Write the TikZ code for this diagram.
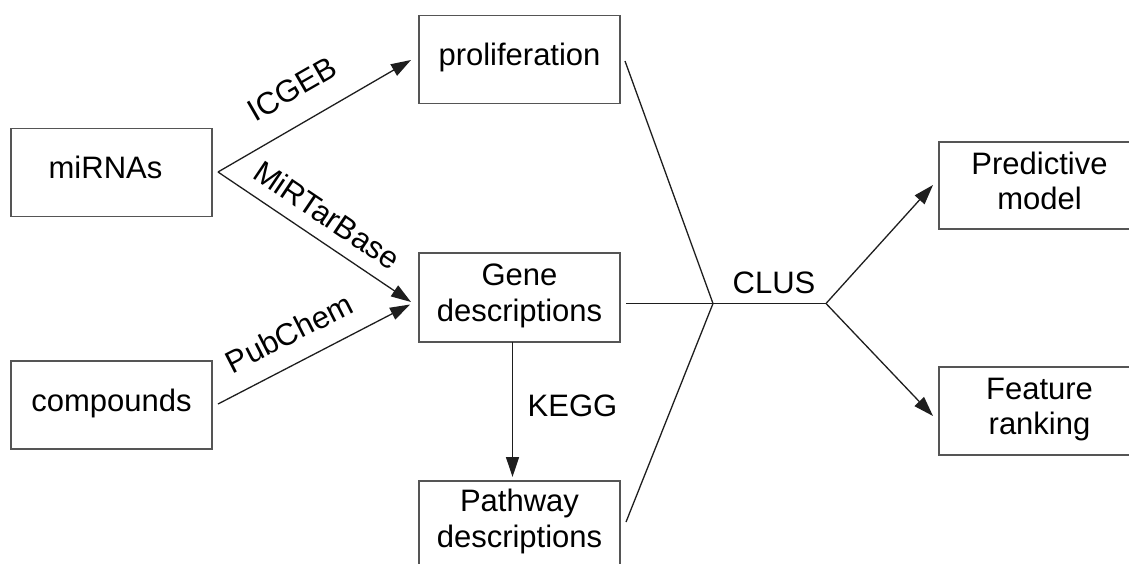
\documentclass[tikz,border=0pt]{standalone}
\usepackage{fontspec}
\setmainfont{Liberation Sans}
\usetikzlibrary{arrows.meta,calc}
\definecolor{boxgray}{RGB}{85,85,85}
\definecolor{linegray}{RGB}{30,30,30}
\newcommand\bxs{\rule[-9.5pt]{0pt}{24pt}}
\begin{document}
\begin{tikzpicture}[x=1pt,y=-1pt,
  box/.style={draw=boxgray, line width=1.5pt, inner sep=0pt, outer sep=0pt,
    minimum width=201pt, minimum height=88pt, align=center,
    font=\fontsize{31}{35.5}\selectfont},
  lbl/.style={inner sep=0pt, font=\fontsize{31}{35.5}\selectfont},
  conn/.style={draw=linegray, line width=1.3pt},
  arr/.style={conn, -{Triangle[length=20pt,width=13pt]}}]
\useasboundingbox (0,0) rectangle (1129,563);
\clip (0,0) rectangle (1129,563);
% boxes
\node[box] (mirna) at (111.5,172.5) {\hspace*{-12pt}miRNAs\bxs};
\node[box] (comp) at (111.5,405) {compounds\bxs};
\node[box] (prolif) at (519.5,59.5) {proliferation\bxs};
\node[box, minimum height=89pt] (gene) at (519.5,297.5) {\bxs Gene\\\bxs descriptions};
\node[box, minimum height=84pt] (path) at (519.5,523) {\bxs Pathway\\\bxs descriptions};
\node[box, minimum height=87pt] (pred) at (1039.5,185.5) {\bxs Predictive\\\bxs model};
\node[box] (feat) at (1039.5,411) {\bxs Feature\\\bxs ranking};
% labels
\node[lbl, rotate=30] (licgeb) at (292,89) {ICGEB};
\node[lbl, rotate=-34] (lmir) at (327,215) {MiRTarBase};
\node[lbl, rotate=27] (lpub) at (289,333) {PubChem};
\node[lbl] (lkegg) at (572.5,406) {KEGG};
\node[lbl] (lclus) at (774,283) {CLUS};
% joints
\coordinate (f1) at ($(mirna.east)+(6,-0.5)$);
\coordinate (J) at (713,303.5);
\coordinate (K) at (826,303.5);
% connectors
\draw[arr] (f1) -- ($(prolif.west)+(-8,0.5)$);
\draw[arr] (f1) -- ($(gene.west)+(-8,4.5)$);
\draw[arr] ($(comp.east)+(6,-1)$) -- ($(gene.west)+(-9,7)$);
\draw[arr] ($(gene.south)+(-7,0)$) -- ($(path.north)+(-7,-4)$);
\draw[conn] ($(prolif.east)+(5,1.5)$) -- (J);
\draw[conn] ($(gene.east |- J)+(6,0)$) -- (J);
\draw[conn] ($(path.east)+(6,-1)$) -- (J);
\draw[conn] (J) -- (K);
\draw[arr] (K) -- ($(pred.west)+(-6,-0.5)$);
\draw[arr] (K) -- ($(feat.west)+(-6,5)$);
\end{tikzpicture}
\end{document}
